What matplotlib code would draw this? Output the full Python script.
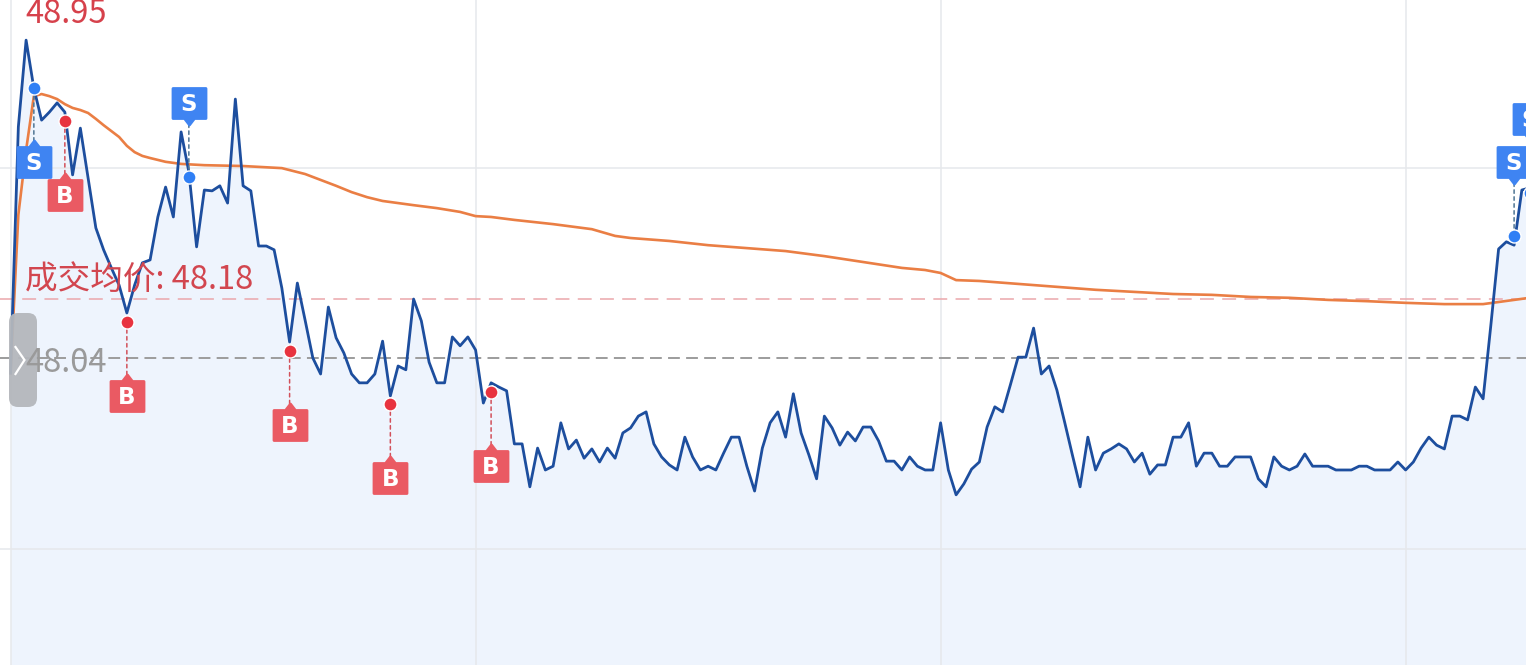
import matplotlib
matplotlib.use("Agg")
import matplotlib.pyplot as plt
from matplotlib.transforms import offset_copy
from matplotlib.patches import FancyBboxPatch
from matplotlib.lines import Line2D
from matplotlib.path import Path
from matplotlib.markers import MarkerStyle

plt.rcParams['font.family'] = ['Noto Sans CJK SC', 'DejaVu Sans']
plt.rcParams['lines.scale_dashes'] = False

# ---------------- data ----------------
price = [
    48.004, 48.589, 48.795, 48.681, 48.605, 48.624, 48.646, 48.624, 48.475, 48.586,
    48.468, 48.349, 48.297, 48.254, 48.213, 48.147, 48.213, 48.266, 48.273, 48.375,
    48.446, 48.375, 48.577, 48.482, 48.304, 48.439, 48.437, 48.449, 48.408, 48.655,
    48.449, 48.437, 48.306, 48.306, 48.297, 48.206, 48.078, 48.218, 48.130, 48.040,
    48.002, 48.161, 48.088, 48.052, 48.002, 47.981, 47.981, 48.002, 48.080, 47.950,
    48.021, 48.012, 48.180, 48.128, 48.030, 47.981, 47.981, 48.090, 48.069, 48.090,
    48.059, 47.933, 47.981, 47.971, 47.962, 47.836, 47.836, 47.734, 47.826, 47.774,
    47.783, 47.886, 47.824, 47.845, 47.802, 47.824, 47.793, 47.826, 47.802, 47.862,
    47.874, 47.902, 47.912, 47.836, 47.805, 47.786, 47.774, 47.852, 47.805, 47.774,
    47.783, 47.774, 47.814, 47.852, 47.852, 47.783, 47.724, 47.826, 47.886, 47.912,
    47.852, 47.955, 47.862, 47.810, 47.753, 47.902, 47.874, 47.833, 47.864, 47.843,
    47.876, 47.876, 47.843, 47.795, 47.795, 47.774, 47.805, 47.783, 47.774, 47.774,
    47.886, 47.774, 47.715, 47.741, 47.776, 47.793, 47.876, 47.924, 47.912, 47.976,
    48.042, 48.042, 48.111, 48.002, 48.021, 47.964, 47.888, 47.810, 47.734, 47.852,
    47.774, 47.814, 47.824, 47.836, 47.824, 47.793, 47.814, 47.764, 47.786, 47.786,
    47.852, 47.852, 47.886, 47.783, 47.814, 47.814, 47.783, 47.783, 47.805, 47.805,
    47.805, 47.753, 47.734, 47.805, 47.783, 47.774, 47.783, 47.812, 47.783, 47.783,
    47.783, 47.774, 47.774, 47.774, 47.783, 47.783, 47.774, 47.774, 47.774, 47.793,
    47.774, 47.793, 47.826, 47.852, 47.833, 47.824, 47.902, 47.902, 47.893, 47.971,
    47.943, 48.118, 48.299, 48.316, 48.308, 48.439, 48.444,
]

avg_idx = [0, 1, 2, 3, 4, 5, 6, 7, 8, 9, 10, 11, 12, 13, 14, 15, 16, 17, 18, 20,
           22, 25, 30, 35, 38, 40, 42, 44, 46, 48, 50, 52, 55, 58, 60, 62, 65, 70,
           75, 78, 80, 85, 90, 95, 100, 105, 110, 115, 118, 120, 122, 125, 130,
           135, 140, 145, 150, 155, 160, 165, 170, 175, 180, 185, 190, 192, 194, 196]
avg_price = [48.004, 48.380, 48.534, 48.662, 48.667, 48.662, 48.655, 48.643, 48.634,
             48.629, 48.622, 48.608, 48.593, 48.579, 48.565, 48.544, 48.529, 48.520,
             48.515, 48.506, 48.501, 48.498, 48.496, 48.491, 48.477, 48.463, 48.449,
             48.434, 48.422, 48.413, 48.408, 48.403, 48.396, 48.387, 48.377, 48.375,
             48.368, 48.358, 48.346, 48.330, 48.325, 48.318, 48.308, 48.301, 48.294,
             48.282, 48.268, 48.254, 48.249, 48.242, 48.225, 48.223, 48.216, 48.209,
             48.202, 48.197, 48.192, 48.190, 48.185, 48.183, 48.178, 48.175, 48.171,
             48.168, 48.168, 48.173, 48.178, 48.183]

prev_close = 48.04
cost_price = 48.18
high_label = "48.95"
cost_label = "成交均价: 48.18"
prev_label = "48.04"
grid_prices = [48.491, 47.586]
grid_minutes = [0, 60, 120, 180]

buy_idx = [7, 15, 36, 49, 62]
buy_price = [48.603, 48.126, 48.057, 47.931, 47.959]
sell_idx = [3, 23, 194, 196]
sell_price = [48.681, 48.470, 48.330, 48.432]
sell_above = [False, True, True, True]

# ---------------- figure ----------------
W, H = 1526, 665
fig = plt.figure(figsize=(W / 100, H / 100), dpi=100)
ax = fig.add_axes([0, 0, 1, 1])
ax.set_axis_off()

x0_px, step_px = 10.6, 7.75
px_per_unit = 421.0
xlim = (-x0_px / step_px, (W - x0_px) / step_px)
ylim = (prev_close - (H - 358) / px_per_unit, prev_close + 358 / px_per_unit)
ax.set_xlim(*xlim)
ax.set_ylim(*ylim)

xs = list(range(len(price)))

# fill under price
ax.fill_between(xs, price, ylim[0], color='#eef4fd', lw=0, zorder=1)

# grid
for m in grid_minutes:
    ax.axvline(m, color='#e6e8ec', lw=1.1, zorder=2)
for g in grid_prices:
    ax.axhline(g, color='#e6e8ec', lw=1.1, zorder=2)

# reference lines
ax.axhline(cost_price, color='#eba7ab', lw=1.1, ls=(0, (10, 6)), zorder=3)
ax.axhline(prev_close, color='#9c9c9c', lw=1.4, ls=(0, (8.5, 4.5)), zorder=3)

# average line and price line
ax.plot(avg_idx, avg_price, color='#ea7e44', lw=1.9, zorder=4, solid_joinstyle='round')
ax.plot(xs, price, color='#1d4e9e', lw=2.0, zorder=5, solid_joinstyle='round')


# markers
def make_box(up):
    s = 1 if up else -1
    verts = [(-16.5, -15 * s), (16.5, -15 * s), (16.5, 15 * s), (5, 15 * s),
             (0, 21.5 * s), (-5, 15 * s), (-16.5, 15 * s), (-16.5, -15 * s)]
    codes = [Path.MOVETO] + [Path.LINETO] * 6 + [Path.CLOSEPOLY]
    return MarkerStyle(Path(verts, codes), joinstyle='round')


box_ms = 43 * 0.72
off_pt = 74 * 0.72
conn_pt = (74 - 21) * 0.72


def trade_marker(i, p, above, box_color, dot_color, line_color, letter):
    sgn = 1 if above else -1
    ax.annotate("", xy=(i, p), xytext=(0, sgn * conn_pt), textcoords='offset points',
                arrowprops=dict(arrowstyle='-', color=line_color, lw=1.1,
                                ls=(0, (2.5, 2.5)), shrinkA=0, shrinkB=0),
                zorder=6)
    ax.plot([i], [p], marker='o', ms=9.4, color=dot_color, mec='white', mew=1.0,
            zorder=7, clip_on=False)
    tr = offset_copy(ax.transData, fig=fig, x=0, y=sgn * off_pt, units='points')
    ax.plot([i], [p], marker=make_box(not above), ms=box_ms, color=box_color,
            mec=box_color, mew=2.0, transform=tr, zorder=8, clip_on=False)
    tr2 = offset_copy(ax.transData, fig=fig, x=0, y=sgn * off_pt - 6.0, units='points')
    ax.text(i, p, letter, transform=tr2, ha='center', va='baseline', color='white',
            fontsize=16.5, fontweight='bold', zorder=9, family=['DejaVu Sans'])


for i, p in zip(buy_idx, buy_price):
    trade_marker(i, p, False, '#ea5a63', '#e8333f', '#d2505a', 'B')
for i, p, a in zip(sell_idx, sell_price, sell_above):
    trade_marker(i, p, a, '#3f84f2', '#2f7ff5', '#4f7593', 'S')

# labels
ax.text(25 / W, 1 - 23 / H, high_label, transform=ax.transAxes, ha='left',
        va='baseline', color='#d6414b', fontsize=23.5, zorder=10)
ax.annotate(cost_label, xy=(25 / W, cost_price), xycoords=('axes fraction', 'data'),
            xytext=(0, 6.5), textcoords='offset points', ha='left', va='baseline',
            color='#d2464f', fontsize=23.5, zorder=10)

# left handle
handle = FancyBboxPatch((0.09, (H - 407) / 100), 0.28, 0.94,
                        boxstyle='round,pad=0,rounding_size=0.09',
                        transform=fig.dpi_scale_trans, facecolor='#b4b7bc',
                        edgecolor='none', alpha=0.95, zorder=11)
fig.patches.append(handle)
chev = Line2D([0.155, 0.245, 0.155], [(H - 347) / 100, (H - 360) / 100, (H - 374) / 100],
              transform=fig.dpi_scale_trans, color='white', lw=1.6,
              solid_joinstyle='miter', zorder=12)
fig.lines.append(chev)

fig.text(25 / W, 1 - 372 / H, prev_label, ha='left', va='baseline',
         color='#9a9a9a', fontsize=23.5, zorder=13)

fig.savefig('out.png', dpi=100, facecolor='white')
